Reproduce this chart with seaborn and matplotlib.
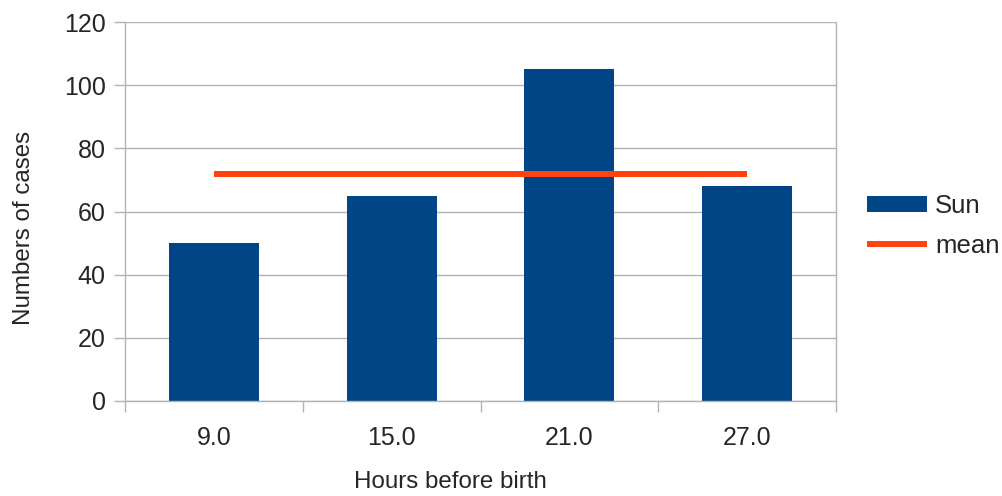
import matplotlib
matplotlib.use("Agg")
import matplotlib.pyplot as plt
import seaborn as sns
import pandas as pd
import numpy as np
from matplotlib.lines import Line2D
from matplotlib.patches import Patch

categories = ["9.0", "15.0", "21.0", "27.0"]
sun = [50, 65, 105, 68]
mean_vals = [72, 72, 72, 72]
yticks = [0, 20, 40, 60, 80, 100, 120]

sns.set_theme(style="white")
plt.rcParams['font.family'] = ['Liberation Sans', 'DejaVu Sans']

df = pd.DataFrame({"hours": categories, "cases": sun})

fig = plt.figure(figsize=(10.02, 4.96), dpi=100)
ax = fig.add_axes([125/1002, 1-401/496, (836-125)/1002, (401-22)/496])

sns.barplot(data=df, x="hours", y="cases", color="#004586", width=0.505,
            saturation=1, linewidth=0, ax=ax, zorder=2)
ax.plot(range(len(categories)), mean_vals, color="#ff420e", lw=4.3,
        solid_capstyle="butt", zorder=3)

ax.set_xlim(-0.5, len(categories)-0.5)
ax.set_ylim(0, 120)
ax.set_yticks(yticks)
ax.set_yticklabels([str(v) for v in yticks], fontsize=18)
ax.set_xticks(range(len(categories)))
ax.set_xticklabels(categories, fontsize=18)
ax.set_xticks(np.arange(-0.5, len(categories), 1.0), minor=True)
ax.tick_params(axis="x", which="major", length=0, pad=18)
ax.tick_params(axis="x", which="minor", length=8, color="#b3b3b3", width=1, bottom=True)
ax.tick_params(axis="y", which="major", length=8, color="#b3b3b3", width=1, left=True, pad=6)
ax.yaxis.grid(True, color="#b3b3b3", lw=1, zorder=0)
ax.set_axisbelow(True)
for side in ["left", "right", "bottom", "top"]:
    ax.spines[side].set_color("#b3b3b3")
    ax.spines[side].set_linewidth(1)
ax.spines["top"].set_visible(False)

ax.set_xlabel("Hours before birth", fontsize=17.4)
ax.set_ylabel("Numbers of cases", fontsize=17.4)
ax.xaxis.set_label_coords(450/1002, 1-471/496, transform=fig.transFigure)
ax.yaxis.set_label_coords(35/1002, 1-228/496, transform=fig.transFigure)

handles = [Patch(facecolor="#004586", edgecolor="none", label="Sun"),
           Line2D([0], [0], color="#ff420e", lw=4.3, solid_capstyle="butt", label="mean")]
fig.legend(handles=handles, loc="upper left", bbox_to_anchor=(867/1002, 1-194/496),
           frameon=False, fontsize=18.5, handlelength=2.33, handleheight=0.62,
           handletextpad=0.31, labelspacing=0.62, borderpad=0, borderaxespad=0)

fig.savefig("out.png", dpi=100, facecolor="white")
